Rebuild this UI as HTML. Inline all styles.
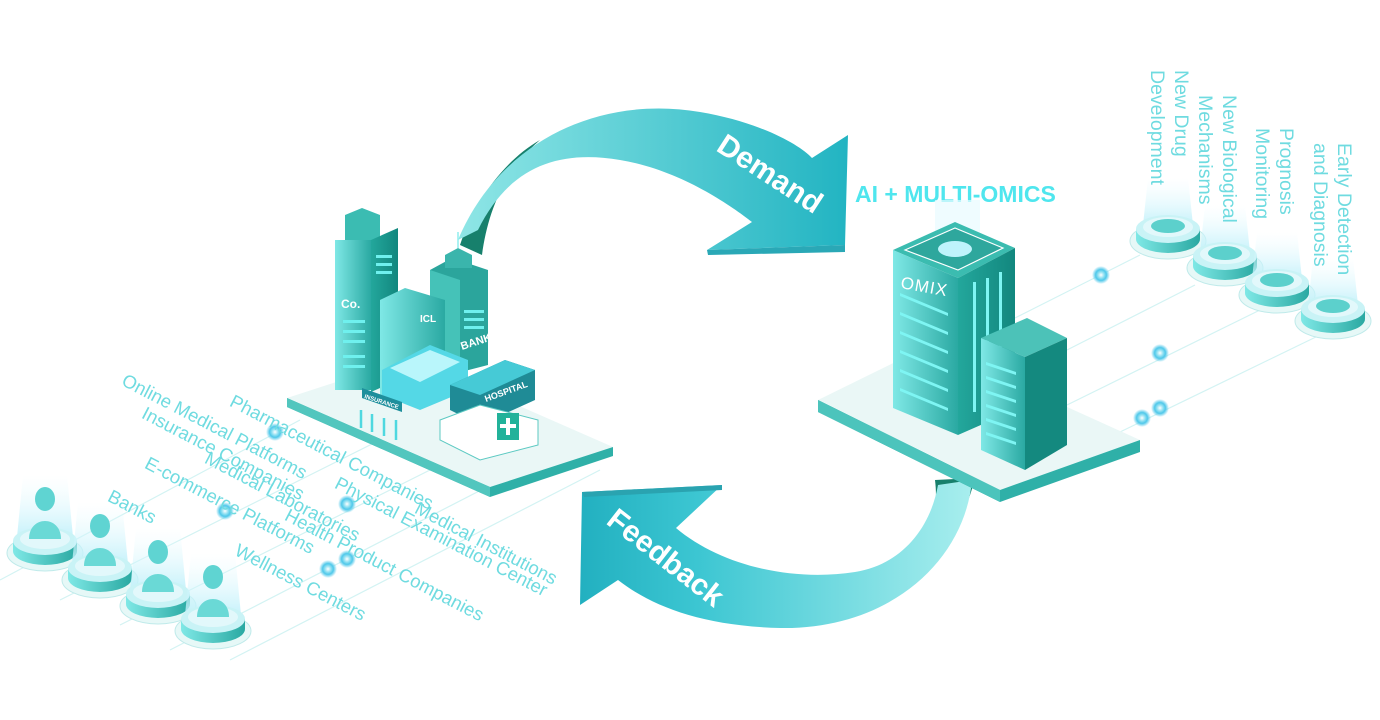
<!DOCTYPE html>
<html><head><meta charset="utf-8"><style>
html,body{margin:0;padding:0;background:#fff;}
svg{display:block;}
.lt{font-family:"Liberation Sans",sans-serif;font-size:18.5px;fill:#6fdbe0;}
.vt{font-family:"Liberation Sans",sans-serif;font-size:19.5px;fill:#6fdbe0;}
</style></head><body>
<svg width="1380" height="720" viewBox="0 0 1380 720" xmlns="http://www.w3.org/2000/svg">
<defs>
<linearGradient id="ga" x1="0" y1="0" x2="1" y2="0">
<stop offset="0" stop-color="#8fe6e6"/><stop offset="1" stop-color="#22b4c2"/></linearGradient>
<linearGradient id="gb" x1="1" y1="0" x2="0" y2="0">
<stop offset="0" stop-color="#a8eeee"/><stop offset="0.7" stop-color="#3cc6d2"/><stop offset="1" stop-color="#22b0c0"/></linearGradient>
<linearGradient id="gl" x1="0" y1="0" x2="1" y2="0">
<stop offset="0" stop-color="#7fe8e6"/><stop offset="1" stop-color="#2aa9a2"/></linearGradient>
<linearGradient id="gr" x1="0" y1="0" x2="1" y2="0">
<stop offset="0" stop-color="#23a79c"/><stop offset="1" stop-color="#12877e"/></linearGradient>
<radialGradient id="dot"><stop offset="0" stop-color="#fff"/><stop offset="0.35" stop-color="#8fe0f2"/><stop offset="0.6" stop-color="#4fc8ea"/><stop offset="1" stop-color="#4fc8ea" stop-opacity="0"/></radialGradient>
<linearGradient id="beam" x1="0" y1="1" x2="0" y2="0"><stop offset="0" stop-color="#bff0fa" stop-opacity="0.9"/><stop offset="1" stop-color="#e8fbff" stop-opacity="0"/></linearGradient>
<g id="ped">
<ellipse cx="0" cy="8" rx="38" ry="18" fill="#e6f8f7" stroke="#bfeaea"/>
<path d="M-32,-4 L-32,6 A32,14 0 0 0 32,6 L32,-4 Z" fill="url(#gl)"/>
<ellipse cx="0" cy="-4" rx="32" ry="14" fill="#c9f3f6"/>
<ellipse cx="0" cy="-6" rx="25" ry="10" fill="#e2f8fb"/>
</g>
</defs>

<g stroke="#d3f3f3" stroke-width="1.2">
<line x1="0" y1="580" x2="300" y2="420"/>
<line x1="60" y1="600" x2="400" y2="430"/>
<line x1="120" y1="625" x2="480" y2="445"/>
<line x1="170" y1="650" x2="520" y2="470"/>
<line x1="230" y1="660" x2="600" y2="470"/>
<line x1="1015" y1="318" x2="1140" y2="255"/>
<line x1="1067" y1="350" x2="1195" y2="285"/>
<line x1="1067" y1="405" x2="1260" y2="310"/>
<line x1="1120" y1="432" x2="1320" y2="335"/>
</g>

<!-- Demand arrow -->
<path d="M460,245 C475,200 505,160 540,140 C505,170 488,210 482,255 Z" fill="#17806c"/>
<path d="M458,240 C500,140 600,95 700,112 C760,122 800,145 812,158 L848,135 L845,245 L707,250 L752,222 C730,205 680,170 620,160 C560,150 510,165 478,230 Z" fill="url(#ga)"/>
<path d="M707,250 L845,245 L845,252 L708,255 Z" fill="#2aa8b6"/>
<text x="0" y="0" transform="translate(715,150) rotate(33)" font-family="Liberation Sans,sans-serif" font-weight="bold" font-size="30" fill="#fff">Demand</text>
<text x="855" y="202" font-family="Liberation Sans,sans-serif" font-weight="bold" font-size="23" fill="#4fe6ee">AI + MULTI-OMICS</text>

<!-- Feedback arrow -->
<path d="M935,480 C940,520 925,550 900,565 C940,560 965,520 975,478 Z" fill="#17806c"/>
<path d="M582,492 L722,485 L676,528 C720,565 790,582 855,572 C900,565 930,530 938,485 L972,480 C965,560 890,630 780,628 C700,626 650,605 618,580 L580,605 Z" fill="url(#gb)"/>
<path d="M582,492 L722,485 L722,490 L584,497 Z" fill="#2aa3b0"/>
<text x="0" y="0" transform="translate(605,523) rotate(38)" font-family="Liberation Sans,sans-serif" font-weight="bold" font-size="30" fill="#fff">Feedback</text>

<!-- Left platform -->
<path d="M287,398 L410,358 L613,447 L490,487 Z" fill="#eaf7f6"/>
<path d="M287,398 L490,487 L613,447 L613,456 L490,497 L287,407 Z" fill="#2fb0a8"/>
<path d="M287,398 L490,487 L490,497 L287,407 Z" fill="#52c6be"/>

<!-- Left buildings -->
<path d="M345,215 L362,208 L380,215 L380,250 L345,250 Z" fill="#3bbcb2"/>
<rect x="335" y="240" width="36" height="150" fill="url(#gl)"/>
<path d="M371,240 L398,228 L398,380 L371,392 Z" fill="url(#gr)"/>
<text x="341" y="308" font-family="Liberation Sans,sans-serif" font-size="12" font-weight="bold" fill="#fff">Co.</text>
<g fill="#6ff0ee"><rect x="343" y="320" width="22" height="3"/><rect x="343" y="330" width="22" height="3"/><rect x="343" y="340" width="22" height="3"/><rect x="343" y="355" width="22" height="3"/><rect x="343" y="365" width="22" height="3"/>
<rect x="376" y="255" width="16" height="3"/><rect x="376" y="263" width="16" height="3"/><rect x="376" y="271" width="16" height="3"/></g>
<path d="M430,270 L452,258 L488,270 L488,365 L430,380 Z" fill="#2ba59c"/>
<path d="M430,270 L460,280 L460,385 L430,380 Z" fill="#45c2b8"/>
<path d="M445,255 L458,248 L472,255 L472,268 L445,268 Z" fill="#3ab5ac"/>
<line x1="458" y1="248" x2="458" y2="232" stroke="#8feeee" stroke-width="1.5"/>
<text x="462" y="350" font-family="Liberation Sans,sans-serif" font-size="11" font-weight="bold" fill="#fff" transform="rotate(-18 462 350)">BANK</text>
<g fill="#6ff0ee"><rect x="464" y="310" width="20" height="3"/><rect x="464" y="318" width="20" height="3"/><rect x="464" y="326" width="20" height="3"/></g>
<path d="M380,300 L405,288 L445,300 L445,395 L380,395 Z" fill="url(#gl)"/>
<text x="420" y="322" font-family="Liberation Sans,sans-serif" font-size="10" font-weight="bold" fill="#fff">ICL</text>
<path d="M382,370 L430,345 L468,360 L468,390 L420,410 L382,395 Z" fill="#54d8e6"/>
<path d="M390,368 L430,350 L460,362 L420,382 Z" fill="#b9f6fb"/>
<path d="M362,388 L402,402 L402,412 L362,398 Z" fill="#1e8f9c"/>
<text x="364" y="398" font-family="Liberation Sans,sans-serif" font-size="6" font-weight="bold" fill="#fff" transform="rotate(18 364 398)">INSURANCE</text>
<g stroke="#4fd8e0" stroke-width="2.5"><line x1="361" y1="410" x2="361" y2="428"/><line x1="372" y1="414" x2="372" y2="432"/><line x1="384" y1="418" x2="384" y2="436"/><line x1="396" y1="420" x2="396" y2="440"/></g>
<path d="M450,385 L505,360 L535,370 L535,400 L480,425 L450,410 Z" fill="#1f8b96"/>
<path d="M450,385 L505,360 L535,370 L480,395 Z" fill="#46cad6"/>
<text x="486" y="402" font-family="Liberation Sans,sans-serif" font-size="9" font-weight="bold" fill="#fff" transform="rotate(-20 486 402)">HOSPITAL</text>
<path d="M440,420 L480,405 L538,420 L538,445 L480,460 L440,440 Z" fill="#fff" stroke="#5cc9c2"/>
<rect x="497" y="413" width="22" height="27" fill="#22b29a"/>
<path d="M508,418 v17 M500,426 h16" stroke="#fff" stroke-width="4"/>

<!-- Right platform -->
<path d="M818,400 L930,345 L1140,440 L1000,490 Z" fill="#eaf7f6"/>
<path d="M818,400 L1000,490 L1140,440 L1140,452 L1000,502 L818,412 Z" fill="#2fb0a8"/>
<path d="M818,400 L1000,490 L1000,502 L818,412 Z" fill="#4cc4bc"/>
<rect x="935" y="200" width="45" height="50" fill="#e8fbff" opacity="0.7"/>
<path d="M893,250 L955,222 L1015,248 L958,278 Z" fill="#3bbcb0"/>
<path d="M905,250 L955,228 L1003,248 L958,270 Z" fill="#2ea79d" stroke="#fff" stroke-width="1.2"/>
<ellipse cx="955" cy="249" rx="17" ry="8" fill="#bff3fb"/>
<path d="M893,250 L958,278 L958,435 L893,408 Z" fill="url(#gl)"/>
<path d="M958,278 L1015,248 L1015,410 L958,435 Z" fill="url(#gr)"/>
<text x="900" y="288" font-family="Liberation Sans,sans-serif" font-size="17" fill="#fff" transform="rotate(10 900 288)" letter-spacing="1">OMIX</text>
<g fill="#7ef5f3">
<path d="M900,293 l48,20 v3 l-48,-20z"/><path d="M900,312 l48,20 v3 l-48,-20z"/><path d="M900,331 l48,20 v3 l-48,-20z"/><path d="M900,350 l48,20 v3 l-48,-20z"/><path d="M900,369 l48,20 v3 l-48,-20z"/><path d="M900,388 l48,20 v3 l-48,-20z"/>
<rect x="973" y="282" width="3" height="130"/><rect x="986" y="278" width="3" height="110"/><rect x="999" y="272" width="3" height="100"/></g>
<path d="M981,338 L1027,318 L1067,338 L1025,357 Z" fill="#4cc2b8"/>
<path d="M981,338 L1025,357 L1025,470 L981,450 Z" fill="url(#gl)"/>
<path d="M1025,357 L1067,338 L1067,445 L1025,470 Z" fill="#14897f"/>
<g fill="#7ef5f3"><path d="M986,362 l30,10 v3 l-30,-10z"/><path d="M986,376 l30,10 v3 l-30,-10z"/><path d="M986,390 l30,10 v3 l-30,-10z"/><path d="M986,404 l30,10 v3 l-30,-10z"/><path d="M986,418 l30,10 v3 l-30,-10z"/><path d="M986,432 l30,10 v3 l-30,-10z"/></g>

<g fill="url(#dot)">
<circle cx="275" cy="432" r="9"/><circle cx="225" cy="511" r="9"/><circle cx="347" cy="504" r="9"/><circle cx="347" cy="559" r="9"/><circle cx="328" cy="569" r="9"/>
<circle cx="1101" cy="275" r="9"/><circle cx="1160" cy="353" r="9"/><circle cx="1160" cy="408" r="9"/><circle cx="1142" cy="418" r="9"/>
</g>

<g>
<g transform="translate(45,545)"><path d="M-28,-8 L-22,-70 L22,-70 L28,-8Z" fill="url(#beam)"/><use href="#ped"/><ellipse cx="0" cy="-46" rx="10" ry="12" fill="#5fd4d2"/><path d="M-16,-6 C-16,-30 16,-30 16,-6Z" fill="#6ad9d6"/></g>
<g transform="translate(100,572)"><path d="M-28,-8 L-22,-70 L22,-70 L28,-8Z" fill="url(#beam)"/><use href="#ped"/><ellipse cx="0" cy="-46" rx="10" ry="12" fill="#5fd4d2"/><path d="M-16,-6 C-16,-30 16,-30 16,-6Z" fill="#6ad9d6"/></g>
<g transform="translate(158,598)"><path d="M-28,-8 L-22,-70 L22,-70 L28,-8Z" fill="url(#beam)"/><use href="#ped"/><ellipse cx="0" cy="-46" rx="10" ry="12" fill="#5fd4d2"/><path d="M-16,-6 C-16,-30 16,-30 16,-6Z" fill="#6ad9d6"/></g>
<g transform="translate(213,623)"><path d="M-28,-8 L-22,-70 L22,-70 L28,-8Z" fill="url(#beam)"/><use href="#ped"/><ellipse cx="0" cy="-46" rx="10" ry="12" fill="#5fd4d2"/><path d="M-16,-6 C-16,-30 16,-30 16,-6Z" fill="#6ad9d6"/></g>
</g>

<g transform="translate(1168,233)"><path d="M-25,-8 L-20,-55 L20,-55 L25,-8Z" fill="url(#beam)"/><use href="#ped"/><ellipse cx="0" cy="-7" rx="17" ry="7" fill="#5cd0cc"/></g>
<g transform="translate(1225,260)"><path d="M-25,-8 L-20,-55 L20,-55 L25,-8Z" fill="url(#beam)"/><use href="#ped"/><ellipse cx="0" cy="-7" rx="17" ry="7" fill="#5cd0cc"/></g>
<g transform="translate(1277,287)"><path d="M-25,-8 L-20,-55 L20,-55 L25,-8Z" fill="url(#beam)"/><use href="#ped"/><ellipse cx="0" cy="-7" rx="17" ry="7" fill="#5cd0cc"/></g>
<g transform="translate(1333,313)"><path d="M-25,-8 L-20,-55 L20,-55 L25,-8Z" fill="url(#beam)"/><use href="#ped"/><ellipse cx="0" cy="-7" rx="17" ry="7" fill="#5cd0cc"/></g>

<g class="vt">
<text transform="translate(1175,70) rotate(90)">New Drug</text>
<text transform="translate(1151,70) rotate(90)">Development</text>
<text transform="translate(1223,95) rotate(90)">New Biological</text>
<text transform="translate(1199,95) rotate(90)">Mechanisms</text>
<text transform="translate(1280,128) rotate(90)">Prognosis</text>
<text transform="translate(1256,128) rotate(90)">Monitoring</text>
<text transform="translate(1338,143) rotate(90)">Early Detection</text>
<text transform="translate(1314,143) rotate(90)">and Diagnosis</text>
</g>

<g class="lt">
<text transform="translate(127,372) rotate(27.5) translate(0,14)">Online Medical Platforms</text>
<text transform="translate(235,393) rotate(27.5) translate(0,14)">Pharmaceutical Companies</text>
<text transform="translate(147,405) rotate(27.5) translate(0,14)">Insurance Companies</text>
<text transform="translate(210,450) rotate(27.5) translate(0,14)">Medical Laboratories</text>
<text transform="translate(150,455) rotate(27.5) translate(0,14)">E-commerce Platforms</text>
<text transform="translate(113,488) rotate(27.5) translate(0,14)">Banks</text>
<text transform="translate(340,475) rotate(27.5) translate(0,14)">Physical Examination Center</text>
<text transform="translate(420,500) rotate(27.5) translate(0,14)">Medical Institutions</text>
<text transform="translate(290,507) rotate(27.5) translate(0,14)">Health Product Companies</text>
<text transform="translate(240,542) rotate(27.5) translate(0,14)">Wellness Centers</text>
</g>
</svg>
</body></html>
